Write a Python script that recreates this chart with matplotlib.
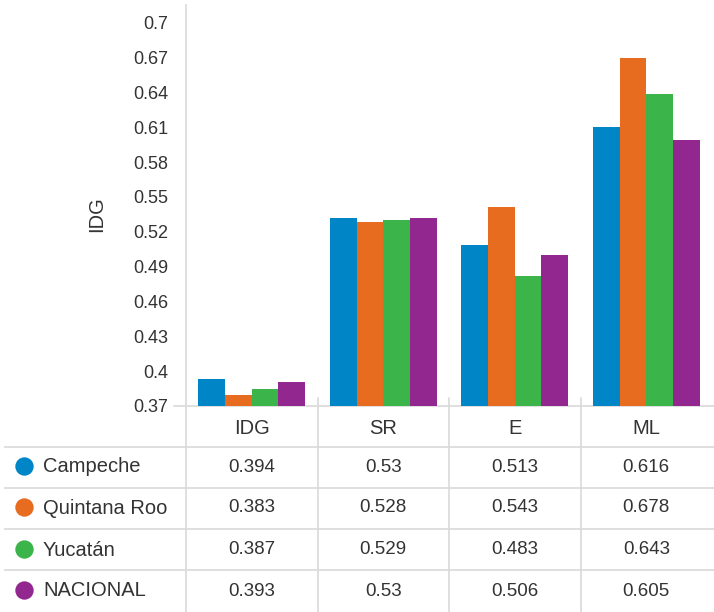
import matplotlib
matplotlib.use("Agg")
import matplotlib.pyplot as plt
import numpy as np

plt.rcParams["font.family"] = ["Liberation Sans", "DejaVu Sans"]

categories = ["IDG", "SR", "E", "ML"]
series = ["Campeche", "Quintana Roo", "Yucatán", "NACIONAL"]
# values printed in the table
campeche = [0.394, 0.53, 0.513, 0.616]
quintana_roo = [0.383, 0.528, 0.543, 0.678]
yucatan = [0.387, 0.529, 0.483, 0.643]
nacional = [0.393, 0.53, 0.506, 0.605]
table_values = [campeche, quintana_roo, yucatan, nacional]
# bar heights as drawn in the chart
campeche_bar = [0.393, 0.532, 0.509, 0.610]
quintana_roo_bar = [0.3795, 0.528, 0.541, 0.670]
yucatan_bar = [0.3846, 0.530, 0.482, 0.639]
nacional_bar = [0.3906, 0.532, 0.500, 0.599]
bar_values = [campeche_bar, quintana_roo_bar, yucatan_bar, nacional_bar]
colors = ["#0085C7", "#E86C1F", "#3BB44A", "#92278F"]
yticks = [0.37, 0.4, 0.43, 0.46, 0.49, 0.52, 0.55, 0.58, 0.61, 0.64, 0.67, 0.7]

W, H = 714, 612
GRID = "#d9d9d9"
TXT = "#333333"


def main():
    fig = plt.figure(figsize=(W / 100, H / 100), dpi=100)

    # overlay in pixel coordinates for the table and rules
    ov = fig.add_axes([0, 0, 1, 1], zorder=0)
    ov.set_xlim(0, W)
    ov.set_ylim(H, 0)
    ov.axis("off")

    left, right, top, base = 186, 712, 5, 406
    ax = fig.add_axes([left / W, (H - base) / H, (right - left) / W, (base - top) / H], zorder=1)
    ax.patch.set_alpha(0)

    n = len(categories)
    w = 0.203
    x = np.arange(n)
    for i, (vals, c) in enumerate(zip(bar_values, colors)):
        ax.bar(x + (i - 1.5) * w, [v - 0.37 for v in vals], w, bottom=0.37, color=c)

    ax.set_xlim(-0.5, n - 0.5)
    ax.set_ylim(0.37, 0.7152)
    ax.set_yticks(yticks)
    ax.set_yticklabels([f"{t:g}" for t in yticks], color=TXT, fontsize=13)
    ax.tick_params(axis="y", length=0, pad=13)
    ax.set_xticks([])
    for s in ax.spines.values():
        s.set_visible(False)
    ov.text(97, 214, "IDG", rotation=90, ha="center", va="center", fontsize=14.5, color=TXT)

    # rules
    gw = (right - left) / n
    ov.plot([left, left], [top, H], color=GRID, lw=1.2)
    ov.plot([174, W], [base, base], color=GRID, lw=1.2)
    for k in range(1, n):
        xs = left + gw * k
        ov.plot([xs, xs], [398, H], color=GRID, lw=1.2)
    for yl in [447, 488, 529, 570]:
        ov.plot([5, W], [yl, yl], color=GRID, lw=1.2)

    # table text
    centers = [left + gw * (k + 0.5) for k in range(n)]
    for cx, cat in zip(centers, categories):
        ov.text(cx, 429, cat, ha="center", va="center", fontsize=14.5, color=TXT)
    row_y = [467, 508, 550, 591]
    for ry, name, vals, c in zip(row_y, series, table_values, colors):
        ov.scatter([24], [ry - 1], s=175, color=c, linewidths=0)
        ov.text(43, ry, name, ha="left", va="center", fontsize=14.5, color=TXT)
        for cx, v in zip(centers, vals):
            ov.text(cx, ry, f"{v:g}", ha="center", va="center", fontsize=13.5, color=TXT)

    fig.savefig("out.png", dpi=100)


if __name__ == "__main__":
    main()
